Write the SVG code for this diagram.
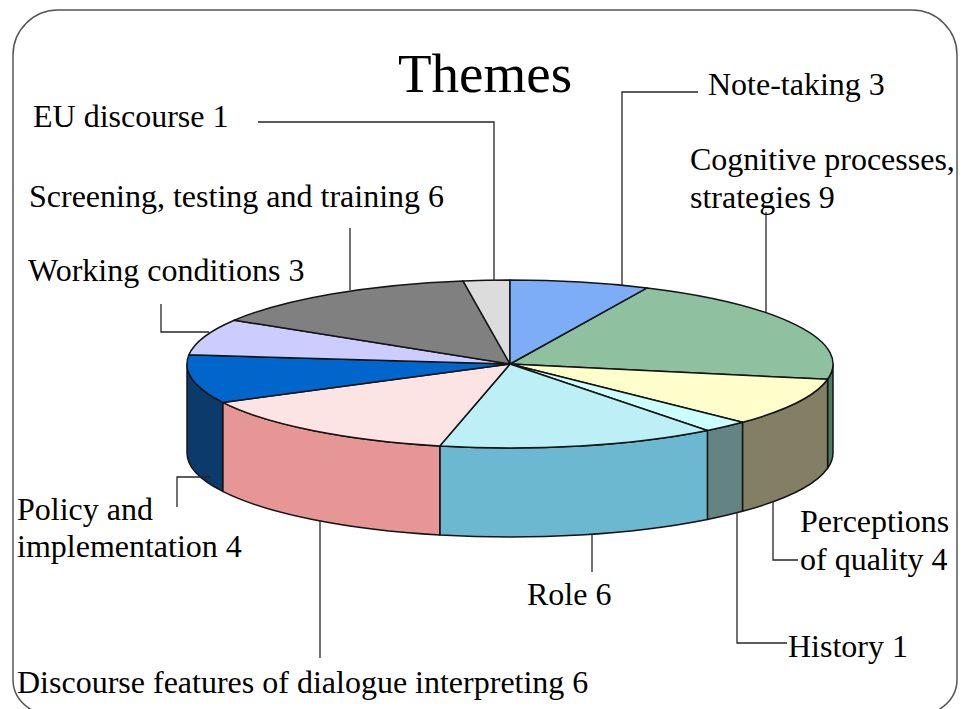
<svg xmlns="http://www.w3.org/2000/svg" width="966" height="709" viewBox="0 0 966 709">
<style>
.lbl{font-family:"Liberation Serif","Times New Roman",serif;font-size:32px;fill:#000}
.ttl{font-family:"Liberation Serif","Times New Roman",serif;font-size:55px;fill:#000}
.s{stroke:#141414;stroke-width:1.5;stroke-linejoin:round}
.ld{fill:none;stroke:#262626;stroke-width:1.3}
</style>
<rect width="966" height="709" fill="#fff"/>
<path d="M35,712 Q13,700 13,680 V55 A45,45 0 0 1 58,10 H912 A45,45 0 0 1 957,55 V680 Q957,700 935,712" fill="none" stroke="#555" stroke-width="1.5"/>
<text class="ttl" x="398" y="92">Themes</text>

<g id="slice-cognitive">
<path class="s" fill="#4E7C5F" d="M833,364 A323,84 0 0 1 827.6,379.3 L827.6,468.3 A323,84 0 0 0 833,453 Z"/>
<path class="s" fill="#8FC1A1" d="M510,364 L647.1,287.9 A323,84 0 0 1 827.6,379.3 Z"/>
</g>
<g id="slice-perceptions">
<path class="s" fill="#827F65" d="M827.6,379.3 A323,84 0 0 1 742.5,422.3 L742.5,511.3 A323,84 0 0 0 827.6,468.3 Z"/>
<path class="s" fill="#FFFFCC" d="M510,364 L827.6,379.3 A323,84 0 0 1 742.5,422.3 Z"/>
</g>
<g id="slice-history">
<path class="s" fill="#648484" d="M742.5,422.3 A323,84 0 0 1 707.4,430.5 L707.4,519.5 A323,84 0 0 0 742.5,511.3 Z"/>
<path class="s" fill="#CCFFFF" d="M510,364 L742.5,422.3 A323,84 0 0 1 707.4,430.5 Z"/>
</g>
<g id="slice-role">
<path class="s" fill="#6CB8D0" d="M707.4,430.5 A323,84 0 0 1 439.8,446 L439.8,535 A323,84 0 0 0 707.4,519.5 Z"/>
<path class="s" fill="#BDEFF7" d="M510,364 L707.4,430.5 A323,84 0 0 1 439.8,446 Z"/>
</g>
<g id="slice-discourse-features">
<path class="s" fill="#E69694" d="M439.8,446 A323,84 0 0 1 222.7,402.4 L222.7,491.4 A323,84 0 0 0 439.8,535 Z"/>
<path class="s" fill="#FDE4E4" d="M510,364 L439.8,446 A323,84 0 0 1 222.7,402.4 Z"/>
</g>
<g id="slice-policy">
<path class="s" fill="#0C3A6B" d="M222.7,402.4 A323,84 0 0 1 187,364 L187,453 A323,84 0 0 0 222.7,491.4 Z"/>
<path class="s" fill="#0066CC" d="M510,364 L222.7,402.4 A323,84 0 0 1 188.9,354.8 Z"/>
</g>
<g id="slice-working-conditions">
<path class="s" fill="#CCCCFF" d="M510,364 L188.9,354.8 A323,84 0 0 1 234.3,320.2 Z"/>
</g>
<g id="slice-screening">
<path class="s" fill="#808080" d="M510,364 L234.3,320.2 A323,84 0 0 1 463,280.9 Z"/>
</g>
<g id="slice-eu-discourse">
<path class="s" fill="#DCDCDC" d="M510,364 L463,280.9 A323,84 0 0 1 510,280 Z"/>
</g>
<g id="slice-note-taking">
<path class="s" fill="#7EADF7" d="M510,364 L510,280 A323,84 0 0 1 647.1,287.9 Z"/>
</g>

<g id="connectors">
<path class="ld" d="M258,122 H494 V281"/>
<path class="ld" d="M698,92 H622 V285"/>
<path class="ld" d="M766,212 V312"/>
<path class="ld" d="M350,228 V290"/>
<path class="ld" d="M161,304 V332 H209"/>
<path class="ld" d="M211,477 H177 V507"/>
<path class="ld" d="M320,521 V658"/>
<path class="ld" d="M592,534 V572"/>
<path class="ld" d="M773,501 V560 H798"/>
<path class="ld" d="M737,512 V643 H787"/>
</g>

<g id="label-eu"><text class="lbl" x="33" y="127">EU discourse 1</text></g>
<g id="label-note"><text class="lbl" x="708" y="95">Note-taking 3</text></g>
<g id="label-cognitive"><text class="lbl" x="690" y="170">Cognitive processes,</text><text class="lbl" x="690" y="208">strategies 9</text></g>
<g id="label-screening"><text class="lbl" x="29" y="207">Screening, testing and training 6</text></g>
<g id="label-working"><text class="lbl" x="28" y="281">Working conditions 3</text></g>
<g id="label-policy"><text class="lbl" x="17" y="520">Policy and</text><text class="lbl" x="17" y="557">implementation 4</text></g>
<g id="label-perceptions"><text class="lbl" x="800" y="532">Perceptions</text><text class="lbl" x="800" y="570">of quality 4</text></g>
<g id="label-role"><text class="lbl" x="527" y="605">Role 6</text></g>
<g id="label-history"><text class="lbl" x="788" y="657">History 1</text></g>
<g id="label-discourse"><text class="lbl" x="17" y="693">Discourse features of dialogue interpreting 6</text></g>
</svg>
